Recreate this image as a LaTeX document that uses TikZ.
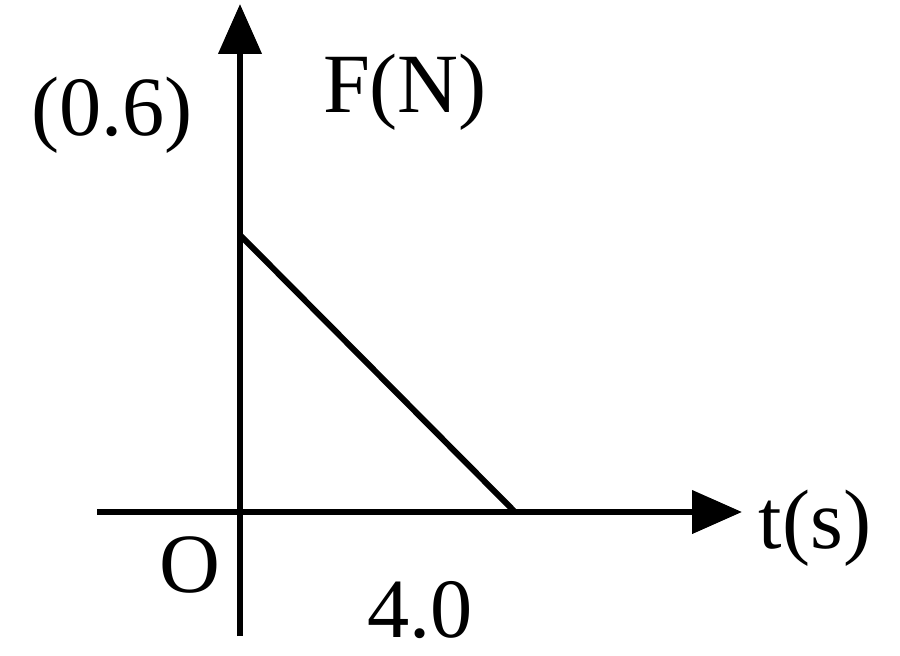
\documentclass[tikz,border=0pt]{standalone}
\usepackage{fontspec}
\setmainfont{Liberation Serif}
\usetikzlibrary{arrows.meta, positioning}

\begin{document}
\begin{tikzpicture}[
    x=0.02cm, y=-0.02cm,
    axis/.style={line width=3.4pt, -{Triangle[length=1cm, width=0.85cm]}},
    graph/.style={line width=3.4pt},
    lbl/.style={font=\fontsize{48}{50}\selectfont, inner sep=0pt}
]
    \useasboundingbox (0,0) rectangle (900,656);

    % Axes
    \coordinate (xstart) at (97,512);
    \coordinate (xend) at (742,512);
    \coordinate (ystart) at (240,636);
    \coordinate (yend) at (240,4);
    \draw[axis] (xstart) -- (xend);
    \draw[axis] (ystart) -- (yend);

    % Force line
    \coordinate (fmax) at (240,235);
    \coordinate (tend) at (515,512);
    \draw[graph] (fmax) -- (tend);

    % Labels
    \node[lbl] (fval) at (112,115) {(0.6)};
    \node[lbl] (flabel) at (405,92) {F(N)};
    \node[lbl] (tlabel) at (815,528) {t(s)};
    \node[lbl] (origin) at (190,565) {O};
    \node[lbl] (tval) at (420,610) {4.0};
\end{tikzpicture}
\end{document}
